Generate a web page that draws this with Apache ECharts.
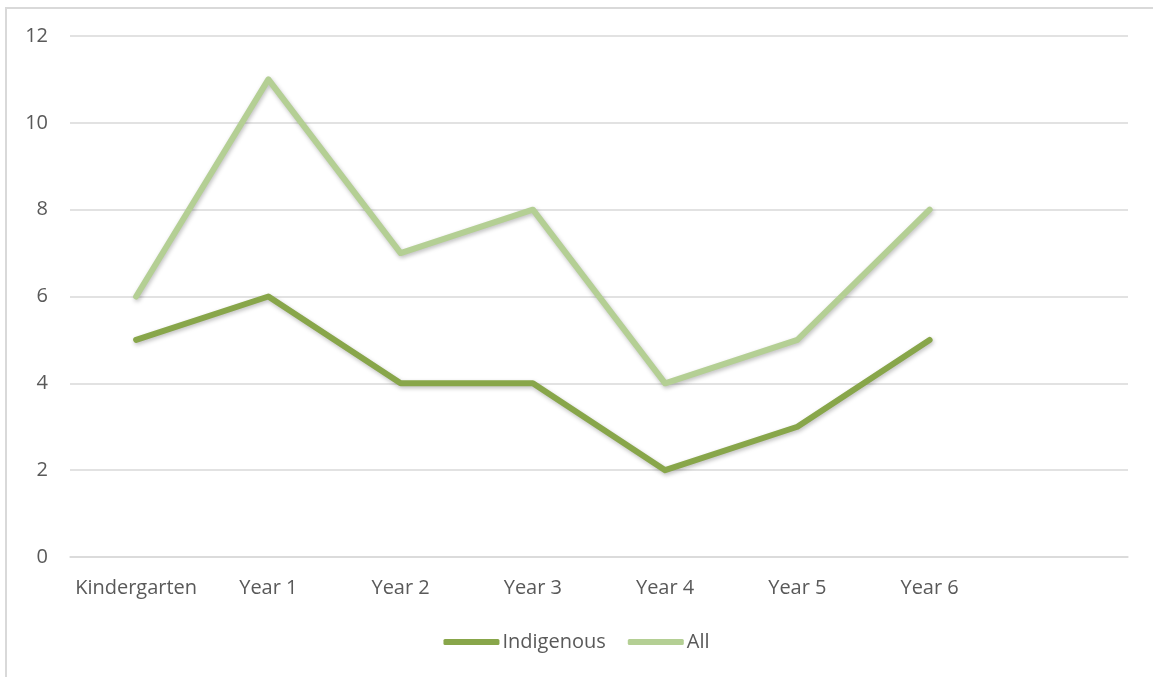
<!DOCTYPE html>
<html>
<head>
<meta charset="utf-8">
<script src="https://cdn.jsdelivr.net/npm/echarts@6/dist/echarts.min.js"></script>
<style>
html,body{margin:0;padding:0;background:#fff;}
#frame{position:absolute;left:5px;top:7px;width:1160px;height:680px;border:2px solid #d9d9d9;box-sizing:border-box;}
#chart{position:absolute;left:0;top:0;width:1153px;height:677px;}
</style>
</head>
<body>
<div id="frame"></div>
<div id="chart"></div>
<script>
const categories = ['Kindergarten', 'Year 1', 'Year 2', 'Year 3', 'Year 4', 'Year 5', 'Year 6', ''];
const indigenous = [5, 6, 4, 4, 2, 3, 5];
const all = [6, 11, 7, 8, 4, 5, 8];
const yTicks = { min: 0, max: 12, interval: 2 };

const chart = echarts.init(document.getElementById('chart'));
const font = 'Open Sans';
const shadow = { shadowColor: 'rgba(0,0,0,0.25)', shadowBlur: 4, shadowOffsetX: 1, shadowOffsetY: 2 };
chart.setOption({
  animation: false,
  grid: { left: 70, right: 25, top: 36, bottom: 120 },
  xAxis: {
    type: 'category',
    data: categories,
    boundaryGap: true,
    axisLine: { show: true, lineStyle: { color: '#d9d9d9', width: 1.5 } },
    axisTick: { show: false },
    axisLabel: { color: '#595959', fontSize: 20, fontFamily: font, margin: 21, interval: 0 }
  },
  yAxis: {
    type: 'value',
    min: yTicks.min, max: yTicks.max, interval: yTicks.interval,
    axisLine: { show: false },
    axisTick: { show: false },
    axisLabel: { color: '#595959', fontSize: 20, fontFamily: font, margin: 22 },
    splitLine: { lineStyle: { color: '#d9d9d9', width: 1.5 } }
  },
  legend: {
    top: 627,
    left: 'center',
    itemWidth: 56,
    itemHeight: 6,
    itemGap: 22,
    textStyle: { color: '#595959', fontSize: 20, fontFamily: font, padding: [0, 0, 0, -2] },
    data: [
      { name: 'Indigenous', icon: 'roundRect' },
      { name: 'All', icon: 'roundRect' }
    ]
  },
  series: [
    {
      name: 'Indigenous', type: 'line', data: indigenous,
      symbol: 'none', color: '#88a64a',
      lineStyle: Object.assign({ width: 6, color: '#88a64a', cap: 'round', join: 'round' }, shadow)
    },
    {
      name: 'All', type: 'line', data: all,
      symbol: 'none', color: '#b4cf94',
      lineStyle: Object.assign({ width: 6, color: '#b4cf94', cap: 'round', join: 'round' }, shadow)
    }
  ]
});
</script>
</body>
</html>
